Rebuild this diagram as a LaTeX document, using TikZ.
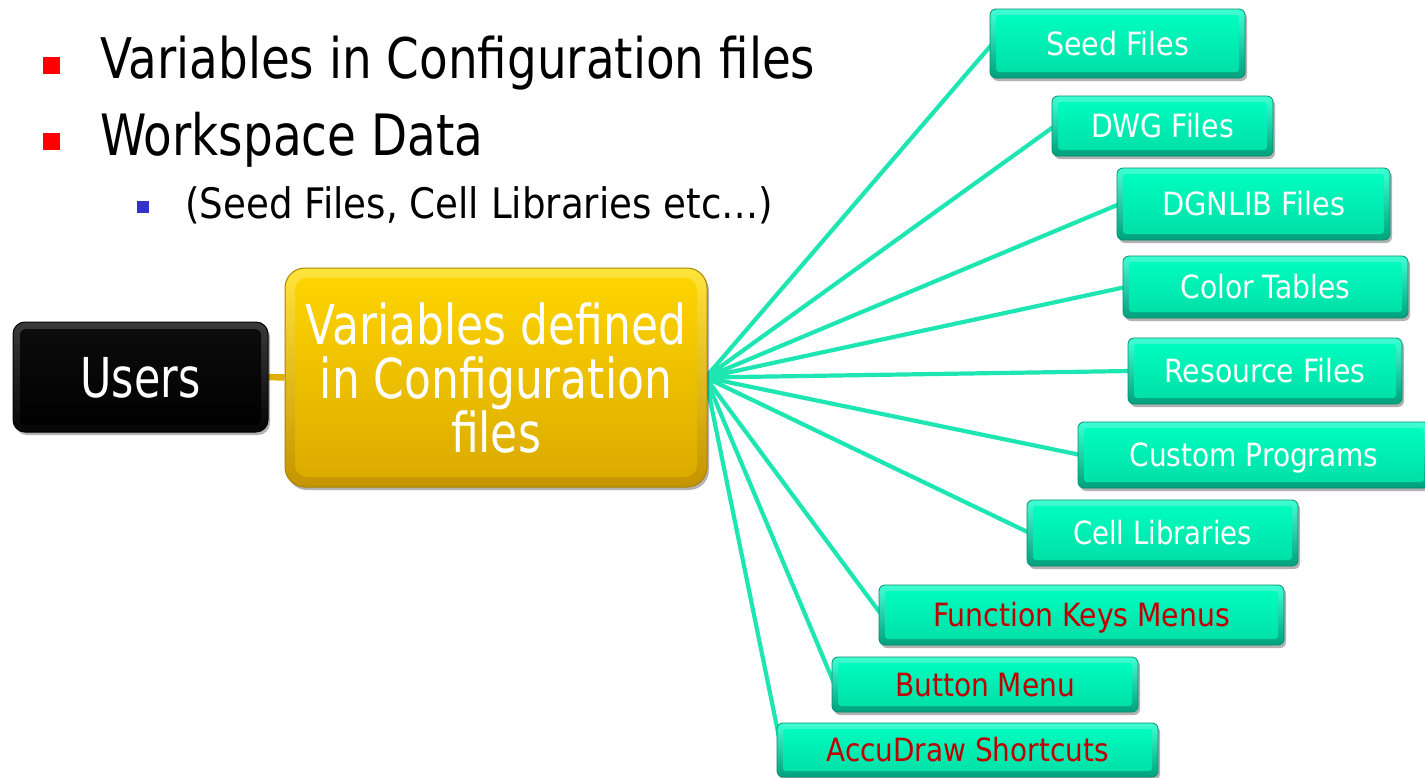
\documentclass[tikz,border=0pt]{standalone}
\usepackage{fontspec}
\setmainfont{DejaVu Sans}
\usetikzlibrary{shadows,backgrounds}
\definecolor{gline}{HTML}{1EE6B2}
\definecolor{yline}{HTML}{E0B000}
\definecolor{gtop}{HTML}{40FFD4}
\definecolor{gbot}{HTML}{00A07C}
\definecolor{gfacetop}{HTML}{00FFC2}
\definecolor{gfacebot}{HTML}{00DDA4}
\definecolor{gedge}{HTML}{008F6C}
\definecolor{ytop}{HTML}{FFE43A}
\definecolor{ybot}{HTML}{C49400}
\definecolor{yfacetop}{HTML}{FFD600}
\definecolor{yfacebot}{HTML}{DAA900}
\definecolor{yedge}{HTML}{A98400}
\definecolor{btop}{HTML}{3A3A3A}
\definecolor{bbot}{HTML}{050505}
\definecolor{redtext}{HTML}{C00000}
\definecolor{bulred}{HTML}{FF0000}
\definecolor{bulblue}{HTML}{3333CC}
\newcommand{\fw}[2]{\resizebox{#1pt}{\height}{#2}}
\begin{document}
\begin{tikzpicture}[x=1pt,y=-1pt,
  bevel/.style n args={4}{path picture={\shade[top color=#1,bottom color=#2,rounded corners=#3]
      ([shift={(#4,-#4)}]path picture bounding box.north west) rectangle
      ([shift={(-#4,#4)}]path picture bounding box.south east);}},
  shad/.style={drop shadow={shadow xshift=2pt,shadow yshift=-3pt,opacity=.3,fill=black}},
  gbox/.style={rounded corners=6pt, draw=gedge, line width=0.8pt, top color=gtop, bottom color=gbot,
     bevel={gfacetop}{gfacebot}{3pt}{6pt}, shad, inner sep=0pt, text height=23.3pt, text depth=0pt,
     font=\fontsize{32}{36}\selectfont, text=white},
  rbox/.style={gbox, text=redtext},
  ybox/.style={rounded corners=20pt, draw=yedge, line width=1pt, top color=ytop, bottom color=ybot,
     bevel={yfacetop}{yfacebot}{12pt}{10pt}, shad, inner sep=0pt, text=white, align=center,
     font=\fontsize{55}{54}\selectfont},
  bbox/.style={rounded corners=12pt, draw=black, line width=1pt, top color=btop, bottom color=bbot,
     bevel={black!95}{black}{6pt}{7pt}, shad, inner sep=0pt, text=white, text height=40pt, text depth=0pt,
     font=\fontsize{55}{60}\selectfont},
  conn/.style={gline, line width=4.2pt},
  yconn/.style={yline, line width=6.5pt},
  bul/.style={inner sep=0pt, minimum size=#1, draw=none},
  toptext/.style={anchor=base west, inner sep=0pt, text=black}
]
\useasboundingbox (0,0) rectangle (1425,777);

% top bullets and texts
\node[bul=17pt, fill=bulred] (b1) at (51,65.5) {};
\node[toptext, font=\fontsize{56}{60}\selectfont] (t1) at (100,78) {\fw{715}{Variables in Configuration files}};
\node[bul=17pt, fill=bulred] (b2) at (51,141.5) {};
\node[toptext, font=\fontsize{57}{60}\selectfont] (t2) at (100,155) {\fw{383}{Workspace Data}};
\node[bul=12pt, fill=bulblue] (b3) at (143,206.5) {};
\node[toptext, font=\fontsize{42}{46}\selectfont] (t3) at (185,218) {\fw{588}{(Seed Files, Cell Libraries etc…)}};

% main boxes
\node[ybox, minimum width=422pt, minimum height=219pt] (yel) at (496,377.5)
  {\fw{380}{Variables defined}\\\fw{352}{in Configuration}\\\fw{90}{files}};
\node[bbox, minimum width=255pt, minimum height=110pt] (users) at (140.5,377) {\fw{120}{Users}};

% green boxes
\node[gbox, minimum width=255pt, minimum height=69pt] (seed) at (1117.5,43.5) {\fw{143}{Seed Files}};
\node[gbox, minimum width=221pt, minimum height=60pt] (dwg) at (1162.5,126) {\fw{143}{DWG Files}};
\node[gbox, minimum width=273pt, minimum height=72pt] (dgnlib) at (1253.5,204) {\fw{183}{DGNLIB Files}};
\node[gbox, minimum width=285pt, minimum height=62pt] (color) at (1265.5,287) {\fw{170}{Color Tables}};
\node[gbox, minimum width=274pt, minimum height=66pt] (resource) at (1265,371) {\fw{201}{Resource Files}};
\node[gbox, minimum width=352pt, minimum height=66pt] (custom) at (1254,455) {\fw{249}{Custom Programs}};
\node[gbox, minimum width=271pt, minimum height=66pt] (cell) at (1162.5,533) {\fw{179}{Cell Libraries}};
\node[rbox, minimum width=405pt, minimum height=60pt] (func) at (1081.5,615) {\fw{297}{Function Keys Menus}};
\node[rbox, minimum width=306pt, minimum height=55pt] (button) at (985,684.5) {\fw{180}{Button Menu}};
\node[rbox, minimum width=381pt, minimum height=54pt] (accu) at (967.5,750) {\fw{282}{AccuDraw Shortcuts}};

% connectors
\begin{scope}[on background layer]
\fill[white] (0,0) rectangle (1425,777);
\draw[yconn] (users.east) -- (yel.west);
\coordinate (hub) at ([xshift=-2pt]yel.east);
\foreach \n in {seed,dwg,dgnlib,color,resource,custom,cell,func,button}
  \draw[conn] (hub) -- ([xshift=3pt]\n.west);
\draw[conn] (hub) -- ([shift={(3pt,10pt)}]accu.west);
\end{scope}
\end{tikzpicture}
\end{document}
